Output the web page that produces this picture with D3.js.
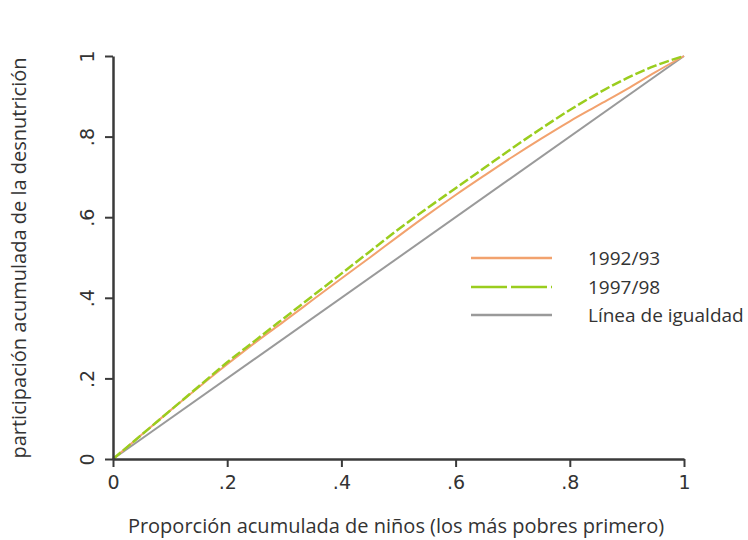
<!DOCTYPE html>
<html>
<head>
<meta charset="utf-8">
<script src="https://cdn.jsdelivr.net/npm/d3@7"></script>
<style>
  html, body { margin: 0; padding: 0; background: #fff; }
  svg { display: block; }
</style>
</head>
<body>
<svg id="chart" width="748" height="540"></svg>
<script>
// Cumulative share of children (poorest first)
const shares = [0, .05, .1, .15, .2, .25, .3, .35, .4, .45, .5, .55, .6, .65, .7, .75, .8, .85, .9, .95, 1];
// Cumulative share of malnutrition, by survey
const y1992 = [0, .06, .12, .178, .235, .29, .342, .395, .448, .5, .553, .605, .655, .703, .75, .795, .838, .878, .918, .96, 1];
const y1997 = [0, .06, .12, .18, .24, .295, .35, .405, .46, .515, .57, .622, .672, .722, .772, .82, .866, .908, .945, .976, 1];
const equality = [0, 1];
const ticks = [0, .2, .4, .6, .8, 1];
const tickLabels = ["0", ".2", ".4", ".6", ".8", "1"];
const legendLabels = ["1992/93", "1997/98", "Línea de igualdad"];

const svg = d3.select("#chart");
const x = d3.scaleLinear().domain([0, 1]).range([113, 684]);
const y = d3.scaleLinear().domain([0, 1]).range([459, 56]);

const axisColor = "#3a3a3a";
const colors = { a: "#f2a26e", b: "#9acd1e", eq: "#9a9a9a" };

const line = d3.line().x(d => x(d[0])).y(d => y(d[1])).curve(d3.curveMonotoneX);

// Equality diagonal
svg.append("path")
  .datum(equality.map(v => [v, v]))
  .attr("d", line).attr("fill", "none")
  .attr("stroke", colors.eq).attr("stroke-width", 2);

// 1992/93 concentration curve
svg.append("path")
  .datum(shares.map((s, i) => [s, y1992[i]]))
  .attr("d", line).attr("fill", "none")
  .attr("stroke", colors.a).attr("stroke-width", 2);

// 1997/98 concentration curve (long dash)
svg.append("path")
  .datum(shares.map((s, i) => [s, y1997[i]]))
  .attr("d", line).attr("fill", "none")
  .attr("stroke", colors.b).attr("stroke-width", 2.5)
  .attr("stroke-dasharray", "10,3");

// Axes
const xAxis = d3.axisBottom(x).tickValues(ticks).tickFormat((d, i) => tickLabels[i]).tickSize(8).tickSizeOuter(0);
const yAxis = d3.axisLeft(y).tickValues(ticks).tickFormat((d, i) => tickLabels[i]).tickSize(8).tickSizeOuter(0);

const gx = svg.append("g").attr("transform", "translate(0,459)").call(xAxis);
const gy = svg.append("g").attr("transform", "translate(113,0)").call(yAxis);

[gx, gy].forEach(g => {
  g.select(".domain").attr("stroke", axisColor).attr("stroke-width", 2.5);
  g.selectAll(".tick line").attr("stroke", axisColor).attr("stroke-width", 2);
  g.selectAll(".tick text")
    .attr("fill", "#333")
    .style("font-family", "DejaVu Sans, sans-serif")
    .style("font-size", "19px");
});
gx.selectAll(".tick text").attr("y", 17);
gy.selectAll(".tick text")
  .attr("text-anchor", "middle")
  .attr("x", 0).attr("dy", 0)
  .attr("transform", "translate(-19,0) rotate(-90)");

// Axis titles
svg.append("text")
  .attr("x", 396).attr("y", 533)
  .attr("text-anchor", "middle")
  .attr("fill", "#333")
  .style("font-family", "Open Sans, sans-serif").style("font-size", "20px")
  .text("Proporción acumulada de niños (los más pobres primero)");

svg.append("text")
  .attr("transform", "translate(26,258) rotate(-90)")
  .attr("text-anchor", "middle")
  .attr("fill", "#333")
  .style("font-family", "Open Sans, sans-serif").style("font-size", "20px")
  .text("participación acumulada de la desnutrición");

// Legend
const legendColors = [colors.a, colors.b, colors.eq];
const legendDash = [null, "36,4", null];
const legendY = [258, 287, 315];
const lg = svg.append("g");
legendLabels.forEach((lab, i) => {
  lg.append("line")
    .attr("x1", 471).attr("x2", 552)
    .attr("y1", legendY[i]).attr("y2", legendY[i])
    .attr("stroke", legendColors[i]).attr("stroke-width", 2.5)
    .attr("stroke-dasharray", legendDash[i]);
  lg.append("text")
    .attr("x", 588).attr("y", legendY[i]).attr("dy", "0.35em")
    .attr("fill", "#333")
    .style("font-family", "Open Sans, sans-serif").style("font-size", "19px")
    .text(lab);
});
</script>
</body>
</html>
